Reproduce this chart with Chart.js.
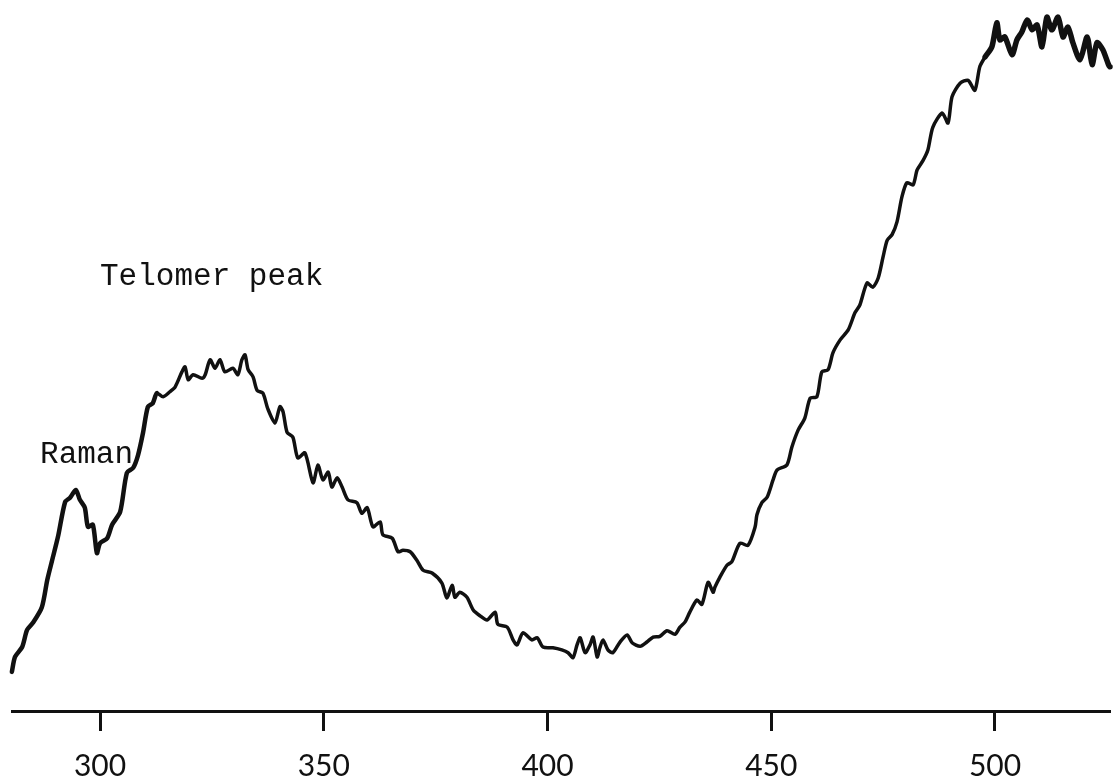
<!DOCTYPE html>
<html>
<head>
<meta charset="utf-8">
<script src="https://cdn.jsdelivr.net/npm/chart.js@4/dist/chart.umd.min.js"></script>
<style>
  html, body { margin: 0; padding: 0; background: #fff; }
  #wrap { width: 1114px; height: 778px; }
</style>
</head>
<body>
<div id="wrap"><canvas id="spec" width="1114" height="778"></canvas></div>
<script>
// Emission spectrum: wavelength (nm) vs. relative intensity (arbitrary units)
const wavelength = [
  280.3, 281.0, 282.6, 283.7, 285.0, 287.0, 288.2, 289.3, 290.6, 292.2,
  293.3, 294.6, 295.5, 296.6, 297.3, 298.4, 299.3, 300.0, 301.6, 302.7,
  304.5, 306.0, 307.4, 308.5, 309.6, 310.7, 311.8, 312.7, 314.1, 315.6,
  316.8, 318.3, 319.0, 319.7, 320.8, 322.8, 323.5, 324.6, 325.7, 326.8,
  327.9, 329.7, 330.8, 331.7, 332.4, 333.1, 334.2, 335.1, 336.4, 337.5,
  339.1, 340.2, 340.9, 341.8, 343.1, 344.2, 345.8, 347.6, 348.7, 349.8,
  351.0, 351.8, 353.0, 354.1, 355.4, 357.4, 358.5, 359.7, 361.0, 362.6,
  363.2, 365.3, 366.6, 367.7, 369.3, 370.8, 372.2, 374.2, 376.4, 377.5,
  378.7, 379.3, 380.4, 382.0, 383.4, 384.9, 386.5, 388.3, 388.9, 391.0,
  392.3, 393.2, 394.5, 396.5, 397.7, 399.0, 401.2, 403.2, 404.6, 405.7,
  406.6, 407.3, 408.4, 409.5, 410.2, 411.1, 411.7, 412.4, 413.5, 414.6,
  416.2, 417.8, 418.9, 420.7, 422.2, 423.6, 425.1, 426.7, 428.5, 429.6,
  430.7, 431.8, 433.4, 434.5, 435.9, 437.0, 437.4, 438.5, 440.1, 441.2,
  443.0, 444.8, 446.4, 446.8, 447.9, 449.1, 450.4, 451.3, 453.5, 454.6,
  456.0, 457.5, 458.7, 460.2, 461.3, 462.7, 463.8, 465.4, 467.2, 468.7,
  469.8, 471.4, 472.7, 473.9, 475.0, 475.9, 477.0, 478.1, 479.2, 480.3,
  481.7, 482.6, 483.9, 485.0, 486.1, 488.2, 489.5, 490.4, 492.2, 494.0,
  495.5, 496.6, 497.8, 499.3, 500.4, 501.1, 502.2, 503.8, 504.9, 506.0,
  507.2, 508.3, 509.4, 510.5, 511.6, 512.7, 514.1, 515.2, 516.3, 517.4,
  519.0, 520.6, 521.7, 522.8, 524.1, 525.7, 526.6
];
const intensity = [
   5.5,  7.6,  9.0, 11.4, 12.4, 14.6, 18.4, 21.2, 24.5, 29.4,
  30.0, 31.1, 29.7, 28.6, 25.9, 26.2, 22.2, 23.6, 24.3, 26.2,
  28.0, 33.5, 34.2, 36.0, 39.1, 42.8, 43.3, 44.7, 44.2, 44.9,
  45.6, 47.7, 48.4, 46.6, 47.3, 46.8, 47.3, 49.4, 48.2, 49.4,
  47.7, 48.2, 47.3, 49.4, 50.1, 48.0, 47.0, 45.1, 44.7, 42.5,
  40.5, 42.8, 42.1, 39.2, 38.5, 35.6, 36.3, 32.1, 34.6, 32.5,
  33.6, 31.5, 32.8, 31.5, 29.7, 29.3, 27.8, 28.6, 25.9, 26.6,
  24.8, 24.3, 22.4, 22.6, 22.4, 21.2, 19.8, 19.4, 18.0, 15.9,
  17.7, 16.0, 16.7, 16.0, 14.2, 13.4, 12.8, 13.9, 12.2, 11.8,
  10.0,  9.3, 11.0, 10.0, 10.3,  9.0,  8.9,  8.6,  8.2,  7.5,
   9.3, 10.3,  8.2,  9.3, 10.4,  7.6,  8.9, 10.0,  8.6,  8.2,
   9.7, 10.7,  9.6,  9.1,  9.7, 10.4, 10.5, 11.3, 10.8, 11.8,
  12.5, 13.9, 15.6, 15.0, 18.1, 16.7, 17.4, 18.8, 20.5, 21.0,
  23.6, 23.3, 25.9, 27.6, 29.3, 30.1, 32.5, 33.9, 34.6, 37.1,
  39.5, 41.2, 44.0, 44.2, 47.7, 48.0, 50.4, 52.2, 53.6, 56.0,
  57.1, 60.2, 59.6, 60.9, 63.9, 66.2, 67.0, 68.8, 72.3, 74.3,
  74.0, 76.1, 77.4, 78.9, 82.1, 84.1, 82.7, 86.4, 88.3, 88.7,
  87.3, 90.6, 92.0, 93.4, 96.8, 94.4, 94.8, 92.3, 94.4, 95.5,
  97.2, 95.8, 96.5, 93.4, 97.6, 95.8, 97.6, 94.8, 96.2, 94.0,
  91.6, 94.8, 90.9, 94.0, 93.0, 90.6, 93.0
];
const tickValues = [300, 350, 400, 450, 500];

// Peak labels, placed in data coordinates (wavelength, intensity at text baseline)
const peakLabels = [
  { text: 'Telomer peak', x: 300.0, y: 59.9 },
  { text: 'Raman',        x: 286.6, y: 34.9 }
];

const points = wavelength.map((w, i) => ({ x: w, y: intensity[i] }));

const labelPlugin = {
  id: 'peakLabels',
  afterDatasetsDraw(chart) {
    const { ctx, scales } = chart;
    ctx.save();
    ctx.fillStyle = '#111';
    ctx.font = '31px "Liberation Mono", "DejaVu Sans Mono", monospace';
    ctx.textAlign = 'left';
    ctx.textBaseline = 'alphabetic';
    peakLabels.forEach(l => {
      ctx.fillText(l.text, scales.x.getPixelForValue(l.x), scales.y.getPixelForValue(l.y));
    });
    ctx.restore();
  }
};

new Chart(document.getElementById('spec'), {
  type: 'line',
  data: {
    datasets: [{
      data: points,
      borderColor: '#111',
      borderWidth: 4,
      borderJoinStyle: 'round',
      borderCapStyle: 'round',
      pointRadius: 0,
      tension: 0.25,
      clip: false,
      segment: {
        borderWidth: c => (c.p0.parsed.x > 497 ? 5.5 : (c.p0.parsed.x < 312 ? 4.5 : 3.5))
      }
    }]
  },
  options: {
    responsive: false,
    animation: false,
    layout: { padding: { left: 12, right: 4, top: 0, bottom: 0 } },
    plugins: { legend: { display: false }, tooltip: { enabled: false } },
    scales: {
      x: {
        type: 'linear',
        min: 280.33,
        max: 525.70,
        afterBuildTicks: s => { s.ticks = tickValues.map(v => ({ value: v })); },
        afterFit: s => { s.height = 67; },
        border: { display: true, color: '#111', width: 3 },
        grid: {
          display: true,
          drawOnChartArea: false,
          drawTicks: true,
          tickLength: 20,
          tickWidth: 3,
          tickColor: '#111'
        },
        ticks: {
          color: '#111',
          padding: 17,
          maxRotation: 0,
          autoSkip: false,
          font: { family: 'Lato, "DejaVu Sans", sans-serif', size: 30 }
        }
      },
      y: {
        display: false,
        min: 0,
        max: 100
      }
    }
  },
  plugins: [labelPlugin]
});
</script>
</body>
</html>
